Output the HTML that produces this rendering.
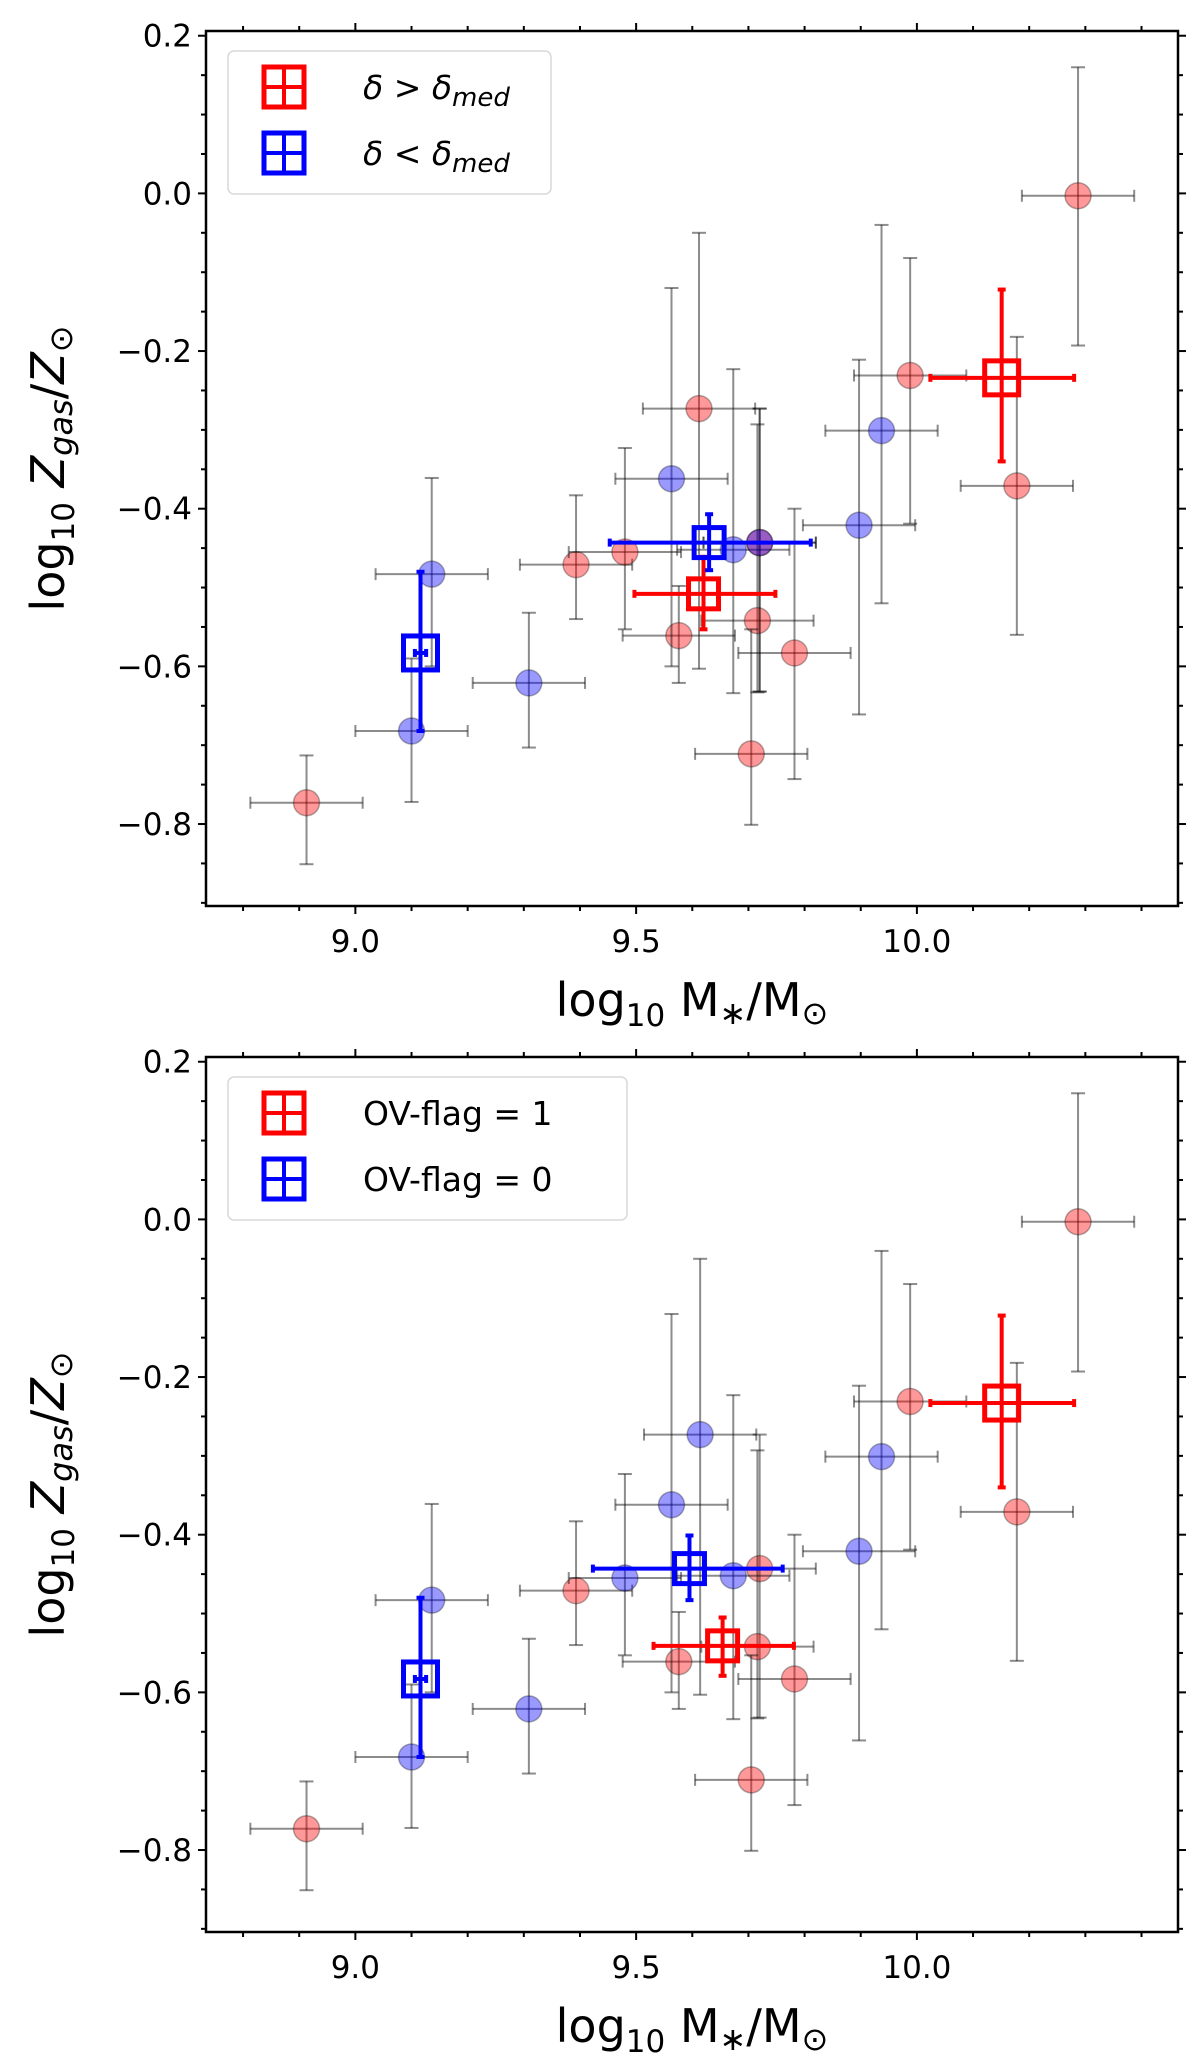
<!DOCTYPE html>
<html><head><meta charset="utf-8"><style>
body{margin:0;background:#fff;}
svg{display:block;font-family:"DejaVu Sans","Liberation Sans",sans-serif;}
</style></head><body>
<svg id="fig" width="1200" height="2062" viewBox="0 0 1200 2062" xmlns="http://www.w3.org/2000/svg"></svg>
<script>
// ---- data: top panel (delta split) ----
const topCircX   = [8.913,9.393,9.48,9.612,9.576,9.72,9.716,9.782,9.705,9.988,10.178,10.287, 9.10,9.136,9.309,9.563,9.673,9.72,9.897,9.937];
const topCircY   = [-0.773,-0.471,-0.455,-0.273,-0.561,-0.443,-0.542,-0.583,-0.711,-0.231,-0.371,-0.003, -0.682,-0.483,-0.621,-0.362,-0.452,-0.443,-0.421,-0.301];
const topCircYHi = [-0.713,-0.383,-0.323,-0.05,-0.498,-0.273,-0.293,-0.40,-0.553,-0.082,-0.182,0.16, -0.59,-0.361,-0.532,-0.12,-0.223,-0.273,-0.211,-0.04];
const topCircYLo = [-0.851,-0.54,-0.553,-0.603,-0.621,-0.632,-0.633,-0.743,-0.801,-0.419,-0.56,-0.193, -0.772,-0.60,-0.703,-0.60,-0.634,-0.632,-0.661,-0.52];
const topCircGrp = ['r','r','r','r','r','r','r','r','r','r','r','r','b','b','b','b','b','b','b','b'];
const topSqX   = [10.151, 9.62, 9.63, 9.116];
const topSqY   = [-0.234,-0.508,-0.443,-0.583];
const topSqXLo = [10.024, 9.497, 9.453, 9.106];
const topSqXHi = [10.28, 9.748, 9.811, 9.126];
const topSqYHi = [-0.122,-0.461,-0.407,-0.48];
const topSqYLo = [-0.34,-0.553,-0.478,-0.682];
const topSqGrp = ['r','r','b','b'];
// ---- data: bottom panel (OV-flag split) ----
const botCircX   = [8.913,9.393,9.576,9.72,9.716,9.782,9.705,9.988,10.178,10.287, 9.10,9.136,9.309,9.563,9.48,9.614,9.673,9.897,9.937];
const botCircY   = [-0.773,-0.471,-0.561,-0.443,-0.542,-0.583,-0.711,-0.231,-0.371,-0.003, -0.682,-0.483,-0.621,-0.362,-0.455,-0.273,-0.452,-0.421,-0.301];
const botCircYHi = [-0.713,-0.383,-0.498,-0.273,-0.293,-0.40,-0.553,-0.082,-0.182,0.16, -0.59,-0.361,-0.532,-0.12,-0.323,-0.05,-0.223,-0.211,-0.04];
const botCircYLo = [-0.851,-0.54,-0.621,-0.632,-0.633,-0.743,-0.801,-0.419,-0.56,-0.193, -0.772,-0.60,-0.703,-0.60,-0.553,-0.603,-0.634,-0.661,-0.52];
const botCircGrp = ['r','r','r','r','r','r','r','r','r','r','b','b','b','b','b','b','b','b','b'];
const botSqX   = [10.151, 9.654, 9.595, 9.116];
const botSqY   = [-0.233,-0.541,-0.443,-0.583];
const botSqXLo = [10.024, 9.531, 9.423, 9.106];
const botSqXHi = [10.28, 9.781, 9.761, 9.126];
const botSqYHi = [-0.122,-0.505,-0.401,-0.48];
const botSqYLo = [-0.34,-0.579,-0.483,-0.682];
const botSqGrp = ['r','r','b','b'];
const circXErr = 0.1;
const xTicks = [9.0, 9.5, 10.0];
const xTickLabels = ['9.0','9.5','10.0'];
const yTicks = [0.2, 0.0, -0.2, -0.4, -0.6, -0.8];
const yTickLabels = ['0.2','0.0','\u22120.2','\u22120.4','\u22120.6','\u22120.8'];

const NS='http://www.w3.org/2000/svg';
const svg=document.getElementById('fig');
function mk(tag,attrs,parent){const e=document.createElementNS(NS,tag);for(const k in attrs)e.setAttribute(k,attrs[k]);(parent||svg).appendChild(e);return e;}
const L=206,R=1178,XMIN=8.734,XMAX=10.465,YMIN=-0.904,YMAX=0.206,H=875;
const COL={r:'#ff0000',b:'#0000ff'};
const FILL={r:'rgba(255,0,0,0.4)',b:'rgba(0,0,255,0.4)'};

function panel(off,name,cx,cy,cyHi,cyLo,cg,sx,sy,sxLo,sxHi,syHi,syLo,sg,leg1,leg2,legW){
  const T=31+off,B=T+H;
  const X=v=>L+(v-XMIN)/(XMAX-XMIN)*(R-L);
  const Y=v=>B-(v-YMIN)/(YMAX-YMIN)*H;
  const g=mk('g',{});
  
  
  // ticks
  for(let v=8.8;v<=10.45;v+=0.1){const x=X(v);const major=xTicks.some(t=>Math.abs(t-v)<1e-6);const len=major?8:5;
    mk('line',{x1:x,x2:x,y1:B,y2:B+len,stroke:'#000','stroke-width':2},g);
    mk('line',{x1:x,x2:x,y1:T,y2:T-len,stroke:'#000','stroke-width':2},g);}
  for(let k=-18;k<=4;k++){const v=k*0.05;if(v<YMIN||v>YMAX)continue;const y=Y(v);const major=(k%4===0);const len=major?8:5;
    mk('line',{x1:L,x2:L-len,y1:y,y2:y,stroke:'#000','stroke-width':2},g);
    mk('line',{x1:R,x2:R+len,y1:y,y2:y,stroke:'#000','stroke-width':2},g);}
  xTicks.forEach((t,i)=>{const e=mk('text',{x:X(t),y:B+46,'font-size':31,'text-anchor':'middle',fill:'#000'},g);e.textContent=xTickLabels[i];
    
    });
  yTicks.forEach((t,i)=>{const e=mk('text',{x:L-14,y:Y(t)+11,'font-size':31,'text-anchor':'end',fill:'#000'},g);e.textContent=yTickLabels[i];
    
    });
  // circles
  cx.forEach((v,i)=>{const x=X(v),y=Y(cy[i]);const eg=mk('g',{stroke:'rgba(0,0,0,0.45)','stroke-width':2},g);
    
    
    const x1=X(v-circXErr),x2=X(v+circXErr),y1=Y(cyHi[i]),y2=Y(cyLo[i]);
    mk('line',{x1:x1,x2:x2,y1:y,y2:y},eg);mk('line',{x1:x,x2:x,y1:y1,y2:y2},eg);
    mk('line',{x1:x1,x2:x1,y1:y-6,y2:y+6},eg);mk('line',{x1:x2,x2:x2,y1:y-6,y2:y+6},eg);
    mk('line',{x1:x-7,x2:x+7,y1:y1,y2:y1},eg);mk('line',{x1:x-7,x2:x+7,y1:y2,y2:y2},eg);
    mk('circle',{cx:x,cy:y,r:13,fill:FILL[cg[i]],stroke:'rgba(0,0,0,0.3)','stroke-width':1.5},eg);});
  // squares
  sx.forEach((v,i)=>{const x=X(v),y=Y(sy[i]);const c=COL[sg[i]];const big=i===0||i===3;const s=big?34:30;
    const eg=mk('g',{stroke:c,'stroke-width':4,fill:'none'},g);
    
    
    const x1=X(sxLo[i]),x2=X(sxHi[i]),y1=Y(syHi[i]),y2=Y(syLo[i]);
    mk('line',{x1:x1,x2:x2,y1:y,y2:y},eg);mk('line',{x1:x,x2:x,y1:y1,y2:y2},eg);
    mk('line',{x1:x1,x2:x1,y1:y-4,y2:y+4},eg);mk('line',{x1:x2,x2:x2,y1:y-4,y2:y+4},eg);
    mk('line',{x1:x-4,x2:x+4,y1:y1,y2:y1},eg);mk('line',{x1:x-4,x2:x+4,y1:y2,y2:y2},eg);
    mk('rect',{x:x-s/2,y:y-s/2,width:s,height:s,'stroke-width':5},eg);});
  // frame
  const fr=mk('rect',{x:L,y:T,width:R-L,height:H,fill:'none',stroke:'#000','stroke-width':2.5},g);
  
  
  // legend
  const lg=mk('g',{},g);
  
  
  mk('rect',{x:228,y:T+20,width:legW,height:143,rx:6,fill:'rgba(255,255,255,0.85)',stroke:'#d8d8d8','stroke-width':1.5},lg);
  [['r',leg1,T+56],['b',leg2,T+122]].forEach(([k,lab,y])=>{const c=COL[k];
    const mg=mk('g',{stroke:c,fill:'none','stroke-width':5},lg);
    mk('rect',{x:284-20,y:y-20,width:40,height:40},mg);
    mk('line',{x1:284,x2:284,y1:y-22,y2:y+22,'stroke-width':4},mg);
    mk('line',{x1:262,x2:306,y1:y,y2:y,'stroke-width':4},mg);
    const t=mk('text',{x:363,y:y+12,'font-size':33,fill:'#000'},lg);t.innerHTML=lab;
    
    });
  // axis titles
  const xl=mk('text',{x:(L+R)/2,y:B+110,'font-size':46,'text-anchor':'middle',fill:'#000'},g);
  xl.innerHTML='log<tspan font-size="31" dy="10">10</tspan><tspan dy="-10"> M</tspan><tspan font-size="32" dy="8">\u2217</tspan><tspan dy="-8">/M</tspan><tspan font-size="32" dy="8">\u2299</tspan>';
  
  
  const yl=mk('text',{x:0,y:0,'font-size':46,'text-anchor':'middle',fill:'#000',transform:`translate(64 ${(T+B)/2}) rotate(-90)`},g);
  yl.innerHTML='log<tspan font-size="31" dy="10">10</tspan><tspan dy="-10"> </tspan><tspan font-style="italic">Z</tspan><tspan font-size="32" font-style="italic" dy="8">gas</tspan><tspan dy="-8">/</tspan><tspan font-style="italic">Z</tspan><tspan font-size="32" dy="8">\u2299</tspan>';
  
  
}
panel(0,'top-panel',topCircX,topCircY,topCircYHi,topCircYLo,topCircGrp,topSqX,topSqY,topSqXLo,topSqXHi,topSqYHi,topSqYLo,topSqGrp,
  '<tspan font-style="italic">\u03b4</tspan> &gt; <tspan font-style="italic">\u03b4</tspan><tspan font-style="italic" font-size="26" dy="7">med</tspan>',
  '<tspan font-style="italic">\u03b4</tspan> &lt; <tspan font-style="italic">\u03b4</tspan><tspan font-style="italic" font-size="26" dy="7">med</tspan>',323);
panel(1026,'bottom-panel',botCircX,botCircY,botCircYHi,botCircYLo,botCircGrp,botSqX,botSqY,botSqXLo,botSqXHi,botSqYHi,botSqYLo,botSqGrp,
  'OV-flag  = 1','OV-flag  = 0',399);
</script>
</body></html>
